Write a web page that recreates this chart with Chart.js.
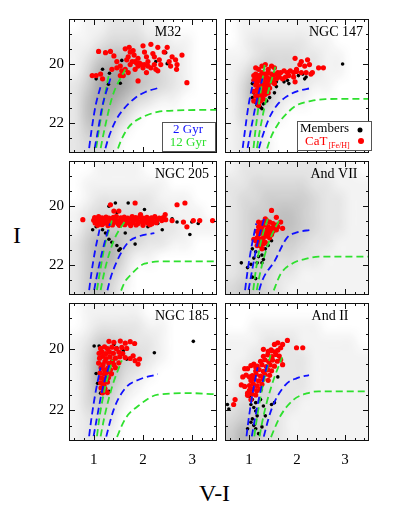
<!DOCTYPE html>
<html>
<head>
<meta charset="utf-8">
<script src="https://cdn.jsdelivr.net/npm/chart.js@4.4.0/dist/chart.umd.min.js"></script>
<style>
  body { margin: 0; width: 399px; height: 509px; background: #fff; position: relative; overflow: hidden; }
  canvas { position: absolute; }
  .axis-title { position: absolute; font-family: 'Liberation Serif', serif; color: #000; font-size: 24px; line-height: 1; }
</style>
</head>
<body>
<div class="axis-title" style="left:13px; top:223px;">I</div>
<div class="axis-title" style="left:199px; top:481px;">V-I</div>
<script>
// ---------------------------------------------------------------------------
// Axes (V-I colour vs I magnitude, shared by all six panels)
// ---------------------------------------------------------------------------
const VI_RANGE = [0.5, 3.5];
const I_RANGE = [18.5, 23.0];
const VI_LABELS = [1, 2, 3];
const I_LABELS = [20, 22];
const VI_MINOR = [0.6, 0.8, 1.0, 1.2, 1.4, 1.6, 1.8, 2.0, 2.2, 2.4, 2.6, 2.8, 3.0, 3.2, 3.4];
const I_MINOR = [19.0, 19.5, 20.0, 20.5, 21.0, 21.5, 22.0, 22.5];

// Field-star density (0-9), rows I 18.5 -> 23 in 0.5 steps, cols V-I 0.5 -> 3.5 in 0.25 steps
const FIELD_VI = [0.5, 3.5];
const FIELD_I = [18.5, 23.0];

// ---------------------------------------------------------------------------
// M32
// ---------------------------------------------------------------------------
const m32Field = [
  '011222110000',
  '112333221100',
  '124554322100',
  '136775432100',
  '247875432100',
  '257753211000',
  '256531000000',
  '245310000000',
  '233200000000',
];
const m32Members = [
  [1.18,20.19],[1.32,20.32],[1.57,19.89],[1.90,20.00],[2.26,19.93],[2.46,19.63],
  [2.49,20.00],[1.30,20.69],[1.05,20.51],[1.54,20.66],
];
const m32CaT = [
  [1.10,19.59],[1.24,19.63],[1.34,19.59],[1.41,19.74],[1.64,19.50],[1.72,19.45],[1.74,19.61],
  [1.80,19.56],[1.70,19.77],[1.67,19.87],[1.82,19.71],[1.90,19.82],[1.84,19.93],[1.93,19.98],
  [2.00,19.40],[2.03,19.61],[2.07,19.77],[2.10,19.93],[2.16,19.35],[2.20,19.66],[2.23,19.77],
  [2.30,19.45],[2.33,19.87],[2.36,20.03],[2.43,19.61],[2.49,19.45],[2.53,19.93],[2.56,20.08],
  [2.59,19.77],[2.66,19.87],[2.69,20.03],[2.68,20.19],[2.79,19.71],[2.89,20.64],[0.97,20.40],
  [1.14,20.35],[1.37,20.19],[1.47,20.14],[1.54,20.08],[1.57,20.24],[1.64,20.19],[1.74,20.03],
  [1.78,19.93],[1.87,19.98],[1.90,20.08],[1.97,20.03],[2.00,20.14],[2.03,20.03],[2.10,20.08],
  [2.16,20.14],[2.23,20.03],[2.26,20.19],[2.30,20.24],[1.90,20.58],[1.70,20.30],[1.60,20.40],
  [1.54,20.40],[2.07,20.30],[1.84,20.19],[1.47,19.93],[1.18,20.51],[1.05,20.40],
];
const m32Iso2 = [
  [[0.88,23.2],[0.96,22.2],[1.04,21.4],[1.14,20.77]],
  [[0.98,23.2],[1.07,22.4],[1.18,21.4],[1.34,20.5]],
  [[1.18,23.2],[1.30,22.5],[1.45,21.9],[1.62,21.5],[1.84,21.15],[2.05,20.95],[2.30,20.82]],
];
const m32Iso12 = [
  [[1.02,23.2],[1.10,22.3],[1.20,21.3],[1.31,20.35]],
  [[1.10,23.2],[1.22,22.2],[1.38,21.1],[1.64,20.19]],
  [[1.42,23.2],[1.55,22.6],[1.70,22.15],[1.84,21.93],[2.05,21.75],[2.30,21.62],[2.70,21.57],[3.60,21.55]],
];

// ---------------------------------------------------------------------------
// NGC 147
// ---------------------------------------------------------------------------
const n147Field = [
  '011111110000',
  '012222211000',
  '112333221100',
  '124433221100',
  '136532211000',
  '136421100000',
  '134210000000',
  '123100000000',
  '122100000000',
];
const n147Members = [
  [1.07,20.67],[1.10,20.98],[1.14,21.30],[1.17,21.40],[1.24,21.46],[1.30,21.35],[1.37,21.25],
  [1.53,20.98],[1.57,20.77],[1.73,20.61],[1.80,20.56],[1.83,20.67],[2.03,20.40],[2.12,20.35],
  [2.16,20.51],[2.19,20.45],[2.95,20.01],[1.57,20.61],[1.27,21.51],[1.07,21.14],[1.43,21.14],
];
const n147CaT = [
  [1.14,20.14],[1.20,20.19],[1.27,20.08],[1.34,20.03],[1.47,20.08],[1.53,20.14],[1.40,20.19],
  [1.14,20.35],[1.20,20.40],[1.27,20.30],[1.34,20.35],[1.40,20.30],[1.47,20.35],[1.53,20.35],
  [1.60,20.30],[1.66,20.30],[1.73,20.24],[1.80,20.30],[1.86,20.24],[1.93,20.30],[1.99,20.26],
  [2.09,20.30],[2.19,20.30],[2.29,20.35],[1.10,20.56],[1.17,20.51],[1.24,20.56],[1.30,20.51],
  [1.37,20.45],[1.43,20.51],[1.50,20.45],[1.57,20.51],[1.63,20.45],[1.70,20.51],[1.76,20.45],
  [1.83,20.40],[1.14,20.72],[1.20,20.77],[1.27,20.72],[1.34,20.67],[1.40,20.72],[1.47,20.61],
  [1.53,20.67],[1.10,20.93],[1.17,20.88],[1.24,20.98],[1.30,20.93],[1.37,20.88],[1.43,20.82],
  [1.14,21.09],[1.20,21.14],[1.27,21.09],[1.34,21.03],[1.40,20.98],[1.10,21.25],[1.17,21.30],
  [1.24,21.25],[1.30,21.19],[1.20,21.40],[1.24,20.40],[1.30,20.62],[1.37,20.60],[1.17,20.62],
  [1.20,20.98],[1.27,20.85],[1.33,20.80],[1.10,20.40],[1.60,20.40],[1.50,20.60],
  [1.96,19.82],[2.09,19.93],[2.22,19.87],[2.06,20.03],[2.16,20.08],[1.99,20.19],[2.26,20.03],
  [2.32,20.30],[2.45,20.14],[2.55,20.14],[1.96,20.61],[1.93,20.45],
];
const n147Iso2 = [
  [[0.84,23.2],[0.92,22.2],[0.99,21.4],[1.09,20.6]],
  [[0.93,23.2],[1.03,22.3],[1.14,21.4],[1.28,20.5]],
  [[1.15,23.2],[1.25,22.6],[1.42,21.83],[1.58,21.4],[1.75,21.14],[2.00,20.93],[2.29,20.82]],
];
const n147Iso12 = [
  [[1.07,23.2],[1.13,22.3],[1.22,21.2],[1.33,20.0]],
  [[1.13,23.2],[1.22,22.3],[1.36,21.2],[1.55,20.1]],
  [[1.31,23.2],[1.45,22.5],[1.60,22.04],[1.80,21.65],[1.99,21.40],[2.30,21.25],[2.59,21.19],[3.60,21.18]],
];

// ---------------------------------------------------------------------------
// NGC 205
// ---------------------------------------------------------------------------
const n205Field = [
  '001111000000',
  '011111110000',
  '012222211100',
  '123333221110',
  '134444322111',
  '246643221100',
  '246631100000',
  '246420000000',
  '245310000000',
];
const n205Members = [
  [0.98,20.81],[1.31,20.02],[1.44,19.91],[1.47,20.23],[1.70,19.91],[2.03,20.13],[2.07,20.55],
  [2.10,20.71],[2.30,20.60],[2.39,20.81],[2.59,20.44],[2.69,20.55],[2.95,20.97],[2.99,20.55],
  [3.12,20.60],[1.31,21.13],[1.37,21.23],[1.47,21.34],[1.54,21.45],[1.24,20.92],[1.64,20.92],
  [1.84,21.29],[1.51,21.50],[1.05,20.71],[1.18,20.81],
];
const n205CaT = [
  [1.02,20.40],[1.10,20.37],[1.17,20.41],[1.25,20.38],[1.31,20.42],[1.40,20.39],[1.46,20.36],
  [1.55,20.41],[1.62,20.38],[1.69,20.42],[1.78,20.37],[1.85,20.40],[1.93,20.38],[2.01,20.42],
  [2.08,20.39],[2.17,20.41],[2.24,20.37],[2.33,20.42],[2.41,20.40],
  [1.00,20.49],[1.06,20.47],[1.14,20.50],[1.21,20.48],[1.28,20.46],[1.36,20.50],[1.43,20.48],
  [1.50,20.51],[1.58,20.47],[1.66,20.49],[1.73,20.46],[1.81,20.50],[1.88,20.48],[1.97,20.51],
  [2.05,20.47],[2.12,20.49],[2.20,20.52],[2.28,20.48],[2.38,20.50],[2.46,20.47],
  [1.03,20.58],[1.11,20.56],[1.19,20.60],[1.26,20.57],[1.34,20.59],[1.41,20.56],[1.49,20.60],
  [1.56,20.58],[1.64,20.56],[1.72,20.59],[1.80,20.57],[1.90,20.60],[1.99,20.56],[2.09,20.58],
  [2.18,20.61],[2.27,20.57],
  [1.08,20.66],[1.17,20.64],[1.29,20.67],[1.38,20.65],[1.52,20.66],[1.63,20.64],[1.75,20.67],
  [1.86,20.65],[2.00,20.66],[2.14,20.64],
  [0.78,20.47],[2.59,20.50],[2.82,20.55],[2.89,20.71],[3.02,20.50],[3.15,20.50],[3.41,20.50],
  [1.34,19.97],[1.84,19.91],[1.41,20.18],[1.51,20.18],[2.69,19.97],[2.85,19.91],[2.45,20.30],
  [1.95,20.30],
];
const n205Iso2 = [
  [[0.88,23.2],[0.96,22.2],[1.03,21.5],[1.12,20.8]],
  [[0.97,23.2],[1.06,22.4],[1.18,21.5],[1.33,20.6]],
  [[1.23,23.2],[1.33,22.5],[1.47,21.87],[1.70,21.23],[1.90,21.04],[2.23,20.92]],
];
const n205Iso12 = [
  [[1.03,23.2],[1.12,22.3],[1.23,21.3],[1.37,20.5]],
  [[1.10,23.2],[1.22,22.2],[1.40,21.2],[1.64,20.5]],
  [[1.48,23.2],[1.62,22.6],[1.77,22.29],[2.03,21.95],[2.49,21.87],[3.60,21.87]],
];

// ---------------------------------------------------------------------------
// And VII
// ---------------------------------------------------------------------------
const and7Field = [
  '122222221110',
  '223333322111',
  '233444432211',
  '234455432211',
  '234555432211',
  '234444322111',
  '234433221111',
  '234322111111',
  '344321111111',
];
const and7Members = [
  [1.07,21.45],[1.14,21.55],[1.10,21.76],[1.20,21.71],[1.27,21.66],[1.27,21.92],[1.17,21.92],
  [0.84,21.92],[1.04,21.97],[1.30,21.81],[1.40,21.34],[1.47,21.18],[1.34,21.45],[1.07,22.40],
  [1.14,22.45],[0.97,22.08],
];
const and7CaT = [
  [1.47,20.16],[1.57,20.39],[1.34,20.44],[1.20,20.55],[1.66,20.55],[1.70,20.76],[1.10,21.13],
  [1.27,21.45],[1.24,20.60],[1.30,20.55],[1.37,20.50],[1.43,20.55],[1.50,20.60],[1.57,20.65],
  [1.20,20.71],[1.27,20.71],[1.34,20.65],[1.40,20.71],[1.47,20.76],[1.53,20.71],[1.60,20.71],
  [1.17,20.86],[1.24,20.81],[1.30,20.86],[1.37,20.81],[1.43,20.86],[1.50,20.86],[1.57,20.81],
  [1.20,20.97],[1.27,20.92],[1.34,20.97],[1.40,20.92],[1.47,20.97],[1.17,21.08],[1.24,21.13],
  [1.30,21.08],[1.37,21.02],[1.43,21.08],[1.14,21.18],[1.20,21.23],[1.27,21.18],[1.34,21.23],
  [1.17,21.34],[1.24,21.34],[1.30,21.29],
];
const and7Iso2 = [
  [[0.89,23.2],[0.97,22.2],[1.05,21.4],[1.15,20.6]],
  [[0.95,23.2],[1.05,22.3],[1.17,21.3],[1.32,20.4]],
  [[1.15,23.2],[1.28,22.5],[1.53,21.87],[1.79,21.08],[2.00,20.90],[2.29,20.81]],
];
const and7Iso12 = [
  [[1.06,23.2],[1.14,22.2],[1.25,21.2],[1.40,20.4]],
  [[1.12,23.2],[1.24,22.2],[1.42,21.2],[1.66,20.4]],
  [[1.44,23.2],[1.55,22.7],[1.66,22.29],[1.93,21.92],[2.20,21.78],[2.45,21.71],[3.60,21.71]],
];

// ---------------------------------------------------------------------------
// NGC 185
// ---------------------------------------------------------------------------
const n185Field = [
  '011111000000',
  '012222110000',
  '124432210000',
  '136643210000',
  '137632100000',
  '136421000000',
  '134310000000',
  '123200000000',
  '122100000000',
];
const n185Members = [
  [1.01,19.90],[1.11,19.90],[1.31,19.75],[1.41,19.85],[1.47,19.96],[1.60,20.06],[1.67,20.33],
  [2.23,20.12],[3.02,19.75],[1.08,21.12],[1.31,21.38],[1.14,21.44],[1.37,20.80],[1.05,20.80],
];
const n185CaT = [
  [1.31,19.75],[1.41,19.78],[1.54,19.74],[1.64,19.81],[1.74,19.76],[1.83,19.82],
  [1.14,19.98],[1.22,19.93],[1.28,19.99],[1.37,19.94],[1.46,19.99],[1.57,19.95],[1.67,19.98],
  [1.11,20.14],[1.17,20.09],[1.25,20.15],[1.32,20.10],[1.40,20.14],[1.51,20.10],[1.59,20.15],
  [1.12,20.30],[1.18,20.24],[1.25,20.31],[1.33,20.26],[1.44,20.30],[1.53,20.25],[1.64,20.28],
  [1.74,20.31],[1.10,20.46],[1.19,20.51],[1.23,20.40],[1.31,20.47],[1.38,20.40],[1.41,20.51],
  [1.51,20.45],[1.15,20.61],[1.21,20.67],[1.29,20.62],[1.34,20.68],[1.44,20.61],[1.13,20.78],
  [1.22,20.82],[1.27,20.76],[1.36,20.81],[1.15,20.94],[1.21,20.99],[1.30,20.93],[1.14,21.10],
  [1.20,21.14],[1.28,21.08],[1.15,21.27],[1.23,21.30],[1.18,21.43],[1.28,21.42],[1.21,21.20],
  [1.80,20.22],[1.84,20.38],[1.93,20.33],[1.90,20.49],
];
const n185Iso2 = [
  [[0.88,23.2],[0.96,22.2],[1.04,21.4],[1.14,20.6]],
  [[0.96,23.2],[1.06,22.3],[1.18,21.3],[1.34,20.4]],
  [[1.20,23.2],[1.41,21.96],[1.64,21.28],[1.90,21.01],[2.30,20.82]],
];
const n185Iso12 = [
  [[1.04,23.2],[1.12,22.2],[1.24,21.2],[1.38,20.35]],
  [[1.10,23.2],[1.22,22.2],[1.38,21.2],[1.57,20.37]],
  [[1.39,23.2],[1.64,22.28],[1.90,21.86],[2.30,21.49],[2.95,21.44],[3.60,21.49]],
];

// ---------------------------------------------------------------------------
// And II
// ---------------------------------------------------------------------------
const and2Field = [
  '000000000000',
  '001111110000',
  '111222111110',
  '112222211111',
  '122222211111',
  '123322211111',
  '233322111111',
  '344321111111',
  '465321111111',
];
const and2Members = [
  [1.01,21.54],[1.07,21.65],[1.04,21.81],[1.10,21.91],[1.14,22.02],[1.17,22.18],[1.07,22.28],
  [1.04,22.39],[1.10,22.49],[1.14,22.60],[1.20,22.76],[0.97,22.60],[1.53,21.75],[1.60,20.91],
  [1.47,21.81],[1.30,21.86],[0.55,21.81],[0.58,21.96],[1.34,22.18],[1.27,22.54],[1.14,21.75],
  [1.24,21.65],
];
const and2CaT = [
  [1.80,19.72],[1.99,19.96],[2.12,19.96],[1.66,19.96],[1.60,19.80],[1.53,19.85],[1.30,20.01],
  [1.47,20.06],[1.70,19.85],
  [0.91,20.64],[0.97,20.64],[0.87,20.91],[0.94,20.85],[1.01,20.91],[0.84,21.17],[0.91,21.22],
  [0.97,21.44],[0.71,21.65],[0.68,21.81],[1.04,20.54],[1.10,20.49],[1.14,20.59],
  [1.40,20.08],[1.46,20.03],[1.54,20.09],[1.60,20.04],
  [1.30,20.24],[1.39,20.19],[1.48,20.25],[1.56,20.18],[1.63,20.23],
  [1.24,20.40],[1.33,20.35],[1.41,20.41],[1.49,20.36],[1.59,20.40],[1.66,20.35],
  [1.17,20.56],[1.27,20.51],[1.36,20.57],[1.44,20.52],[1.53,20.56],[1.70,20.51],
  [1.14,20.72],[1.21,20.67],[1.30,20.73],[1.39,20.68],[1.47,20.71],
  [1.07,20.87],[1.15,20.82],[1.24,20.88],[1.33,20.83],[1.43,20.86],
  [1.04,21.03],[1.11,20.98],[1.20,21.04],[1.29,20.99],[1.40,21.02],
  [1.01,21.19],[1.09,21.14],[1.17,21.20],[1.27,21.15],
  [1.01,21.35],[1.08,21.30],[1.16,21.36],[1.24,21.31],
  [0.97,21.51],[1.06,21.47],[1.14,21.50],[1.04,21.65],
];
const and2Iso2 = [
  [[0.92,23.2],[1.00,22.2],[1.08,21.4],[1.18,20.6]],
  [[1.02,23.2],[1.12,22.3],[1.25,21.3],[1.40,20.4]],
  [[1.25,23.2],[1.47,21.96],[1.76,21.17],[2.00,20.95],[2.25,20.85]],
];
const and2Iso12 = [
  [[1.08,23.2],[1.17,22.2],[1.30,21.1],[1.45,20.2]],
  [[1.18,23.2],[1.30,22.2],[1.47,21.2],[1.69,20.27]],
  [[1.37,23.2],[1.66,22.17],[1.93,21.65],[2.20,21.45],[2.45,21.38],[3.60,21.38]],
];

// ---------------------------------------------------------------------------
// Layout and styling
// ---------------------------------------------------------------------------
const SERIF = "'Liberation Serif', 'DejaVu Serif', serif";
const BLUE = '#1010ff';
const GREEN = '#2ee02e';
const RED = '#ff0000';
const COL_LEFT = [69, 221];
const ROW_TOP = [15, 157, 299];
const PANEL_W = 152, PANEL_H = 142;
const Y_LABEL_W = 40, X_LABEL_H = 30;

const PANELS = [
  { title: 'M32',     col: 0, row: 0, titleX: 99,  field: m32Field,  members: m32Members,  cat: m32CaT,  iso2: m32Iso2,  iso12: m32Iso12,  legend: 'age' },
  { title: 'NGC 147', col: 1, row: 0, titleX: 111, field: n147Field, members: n147Members, cat: n147CaT, iso2: n147Iso2, iso12: n147Iso12, legend: 'members' },
  { title: 'NGC 205', col: 0, row: 1, titleX: 113, field: n205Field, members: n205Members, cat: n205CaT, iso2: n205Iso2, iso12: n205Iso12 },
  { title: 'And VII', col: 1, row: 1, titleX: 109, field: and7Field, members: and7Members, cat: and7CaT, iso2: and7Iso2, iso12: and7Iso12 },
  { title: 'NGC 185', col: 0, row: 2, titleX: 113, field: n185Field, members: n185Members, cat: n185CaT, iso2: n185Iso2, iso12: n185Iso12 },
  { title: 'And II',  col: 1, row: 2, titleX: 105, field: and2Field, members: and2Members, cat: and2CaT, iso2: and2Iso2, iso12: and2Iso12 },
];

// Gray field-star density drawn as a smoothed image placed through the scales
const fieldPlugin = {
  id: 'field',
  beforeDatasetsDraw(chart, args, opts) {
    const grid = opts.grid;
    if (!grid) return;
    const rows = grid.length, cols = grid[0].length;
    const off = document.createElement('canvas');
    off.width = cols; off.height = rows;
    const octx = off.getContext('2d');
    const img = octx.createImageData(cols, rows);
    grid.forEach((row, r) => {
      [...row].forEach((ch, c) => {
        const k = (r * cols + c) * 4;
        img.data[k] = img.data[k + 1] = img.data[k + 2] = 30;
        img.data[k + 3] = Math.round(Number(ch) * 0.055 * 255);
      });
    });
    octx.putImageData(img, 0, 0);
    const { x, y } = chart.scales;
    const x0 = x.getPixelForValue(FIELD_VI[0]), x1 = x.getPixelForValue(FIELD_VI[1]);
    const y0 = y.getPixelForValue(FIELD_I[0]), y1 = y.getPixelForValue(FIELD_I[1]);
    const a = chart.chartArea, ctx = chart.ctx;
    ctx.save();
    ctx.beginPath(); ctx.rect(a.left, a.top, a.width, a.height); ctx.clip();
    ctx.imageSmoothingEnabled = true;
    ctx.imageSmoothingQuality = 'high';
    ctx.drawImage(off, x0, y0, x1 - x0, y1 - y0);
    ctx.restore();
  },
};

// Frame, inward ticks on all four sides, panel name and legend boxes
const framePlugin = {
  id: 'frame',
  afterDatasetsDraw(chart, args, opts) {
    const { ctx, chartArea: a } = chart;
    const { x, y } = chart.scales;
    ctx.save();
    ctx.strokeStyle = '#111';
    ctx.lineWidth = 1;
    ctx.beginPath();
    VI_MINOR.forEach(v => {
      const px = Math.round(x.getPixelForValue(v)) + 0.5;
      const len = VI_LABELS.includes(v) ? 6 : 3;
      ctx.moveTo(px, a.bottom); ctx.lineTo(px, a.bottom - len);
      ctx.moveTo(px, a.top); ctx.lineTo(px, a.top + len);
    });
    I_MINOR.forEach(v => {
      const py = Math.round(y.getPixelForValue(v)) + 0.5;
      const len = I_LABELS.includes(v) ? 6 : 3;
      ctx.moveTo(a.left, py); ctx.lineTo(a.left + len, py);
      ctx.moveTo(a.right, py); ctx.lineTo(a.right - len, py);
    });
    ctx.stroke();
    ctx.strokeRect(a.left + 0.5, a.top + 0.5, a.width - 1, a.height - 1);

    ctx.fillStyle = '#000';
    ctx.font = `14px ${SERIF}`;
    ctx.textAlign = 'center';
    ctx.textBaseline = 'middle';
    ctx.fillText(opts.title, a.left + opts.titleX, a.top + 13);

    if (opts.legend === 'age') {
      ctx.fillStyle = '#fff';
      ctx.fillRect(a.left + 93, a.top + 103, 53, 29);
      ctx.strokeStyle = '#555';
      ctx.strokeRect(a.left + 93.5, a.top + 103.5, 53, 29);
      ctx.font = `13px ${SERIF}`;
      ctx.fillStyle = BLUE;
      ctx.fillText('2 Gyr', a.left + 119, a.top + 111);
      ctx.fillStyle = GREEN;
      ctx.fillText('12 Gyr', a.left + 119, a.top + 124);
    } else if (opts.legend === 'members') {
      ctx.fillStyle = '#fff';
      ctx.fillRect(a.left + 72, a.top + 102, 74, 29);
      ctx.strokeStyle = '#555';
      ctx.strokeRect(a.left + 72.5, a.top + 102.5, 74, 29);
      ctx.textAlign = 'left';
      ctx.font = `13px ${SERIF}`;
      ctx.fillStyle = '#000';
      ctx.fillText('Members', a.left + 75, a.top + 110);
      ctx.beginPath(); ctx.arc(a.left + 135, a.top + 111, 2.5, 0, Math.PI * 2); ctx.fill();
      ctx.fillStyle = RED;
      ctx.fillText('CaT', a.left + 80, a.top + 123);
      const w = ctx.measureText('CaT').width;
      ctx.font = `8px ${SERIF}`;
      ctx.fillText('[Fe/H]', a.left + 80 + w + 1, a.top + 127);
      ctx.beginPath(); ctx.arc(a.left + 136, a.top + 122, 3, 0, Math.PI * 2); ctx.fill();
    }
    ctx.restore();
  },
};

function pointsOf(pairs) {
  return pairs.map(([vi, mag]) => ({ x: vi, y: mag }));
}

function isoDataset(curve, color) {
  return {
    data: pointsOf(curve),
    showLine: true,
    borderColor: color,
    borderWidth: 1.8,
    borderDash: [7, 4],
    pointRadius: 0,
    cubicInterpolationMode: 'monotone',
    clip: 0,
    order: 0,
  };
}

function buildPanel(p) {
  const showY = p.col === 0;
  const showX = p.row === 2;
  const canvas = document.createElement('canvas');
  canvas.width = PANEL_W + (showY ? Y_LABEL_W : 0);
  canvas.height = PANEL_H + (showX ? X_LABEL_H : 0);
  canvas.style.left = (COL_LEFT[p.col] - (showY ? Y_LABEL_W : 0)) + 'px';
  canvas.style.top = ROW_TOP[p.row] + 'px';
  document.body.appendChild(canvas);

  const datasets = [
    ...p.iso2.map(c => isoDataset(c, BLUE)),
    ...p.iso12.map(c => isoDataset(c, GREEN)),
    { data: pointsOf(p.cat), backgroundColor: RED, borderWidth: 0, pointRadius: 2.6, clip: 0, order: 1 },
    { data: pointsOf(p.members), backgroundColor: '#000', borderWidth: 0, pointRadius: 1.8, clip: 0, order: 2 },
  ];

  new Chart(canvas.getContext('2d'), {
    type: 'scatter',
    data: { datasets },
    options: {
      responsive: false,
      animation: false,
      events: [],
      devicePixelRatio: 1,
      layout: { padding: 0 },
      plugins: {
        legend: { display: false },
        tooltip: { enabled: false },
        field: { grid: p.field },
        frame: { title: p.title, titleX: p.titleX, legend: p.legend },
      },
      scales: {
        x: {
          type: 'linear',
          min: VI_RANGE[0],
          max: VI_RANGE[1],
          display: showX,
          grid: { display: false, drawTicks: false },
          border: { display: false },
          afterBuildTicks: s => { s.ticks = VI_LABELS.map(v => ({ value: v })); },
          ticks: { color: '#000', font: { family: SERIF, size: 15 }, padding: 10, maxRotation: 0, autoSkip: false },
          afterFit: s => {
            s.height = showX ? X_LABEL_H : 0;
            s.paddingLeft = 0; s.paddingRight = 0; s.paddingTop = 0; s.paddingBottom = 0;
          },
        },
        y: {
          type: 'linear',
          reverse: true,
          min: I_RANGE[0],
          max: I_RANGE[1],
          display: showY,
          grid: { display: false, drawTicks: false },
          border: { display: false },
          afterBuildTicks: s => { s.ticks = I_LABELS.map(v => ({ value: v })); },
          ticks: { color: '#000', font: { family: SERIF, size: 15 }, padding: 5, autoSkip: false },
          afterFit: s => {
            s.width = showY ? Y_LABEL_W : 0;
            s.paddingTop = 0; s.paddingBottom = 0; s.paddingLeft = 0; s.paddingRight = 0;
          },
        },
      },
    },
    plugins: [fieldPlugin, framePlugin],
  });
}

PANELS.forEach(buildPanel);
</script>
</body>
</html>
